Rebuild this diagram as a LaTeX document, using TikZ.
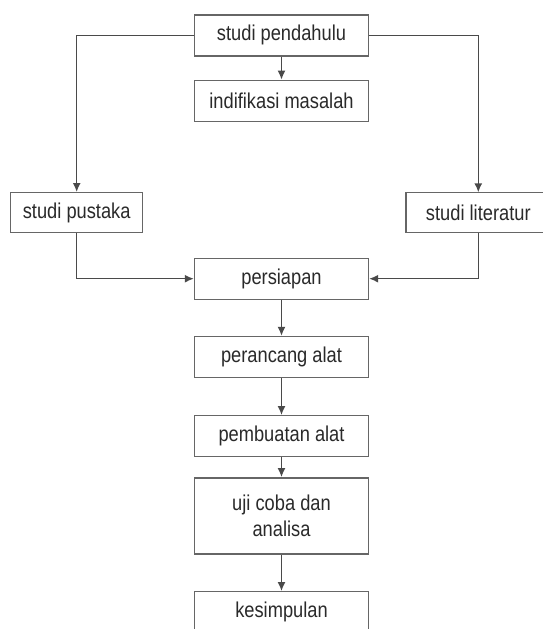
\documentclass[tikz,border=0pt]{standalone}
\usepackage{fontspec}
\setmainfont[FakeStretch=0.85]{Liberation Sans}
\usepackage{xcolor}
\usetikzlibrary{arrows.meta,positioning,calc}

\definecolor{linegray}{HTML}{4A4A4A}
\definecolor{boxgray}{HTML}{666666}
\definecolor{textgray}{HTML}{2A2A2A}

\begin{document}
\begin{tikzpicture}[x=1pt,y=-1pt,
        box/.style={draw=boxgray, line width=1.4pt, fill=white, inner sep=0pt,
            minimum width=174pt, minimum height=41pt, align=center,
            text=textgray, font=\fontsize{21.5}{26}\selectfont},
        arr/.style={draw=linegray, line width=1.4pt, -{Latex[length=9pt,width=8pt]}}]
    \useasboundingbox (0,0) rectangle (543,629);
    % main column
    \node[box] (pend) at (281.5,35.3) {studi pendahulu};
    \node[box] (ind) at (281.5,100.8) {indifikasi masalah};
    \node[box] (pers) at (281.5,278.7) {persiapan};
    \node[box] (peran) at (281.5,357) {perancang alat};
    \node[box] (pemb) at (281.5,436.2) {pembuatan alat};
    \node[box, minimum height=76pt] (uji) at (281.5,515.8) {uji coba dan\\analisa};
    \node[box] (kes) at (281.5,612.2) {kesimpulan};
    % side boxes
    \node[box, minimum width=132pt, minimum height=40pt] (pus) at (76.7,212.7) {studi pustaka};
    \node[box, draw=none, minimum width=143pt, minimum height=39pt] (lit) at (478.3,212.5) {studi literatur};
    \draw[draw=boxgray, line width=1.4pt] (lit.north west) rectangle ($(lit.south east)+(25,0)$);
    % connectors
    \draw[arr] (pend) -- (ind);
    \draw[arr] (pend.west) -| (pus.north);
    \draw[arr] (pend.east) -| (lit.north);
    \draw[arr] (pus.south) |- (pers.west);
    \draw[arr] (lit.south) |- (pers.east);
    \draw[arr] (pers) -- (peran);
    \draw[arr] (peran) -- (pemb);
    \draw[arr] (pemb) -- (uji);
    \draw[arr] (uji) -- (kes);
\end{tikzpicture}
\end{document}
